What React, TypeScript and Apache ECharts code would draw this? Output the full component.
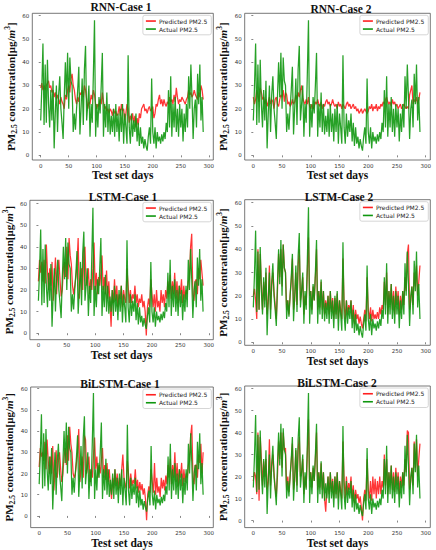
import React, { useEffect, useRef } from "react";
import * as echarts from "echarts";

// ---- data (one sample every DAY_STEP test days) ----
const DAY_STEP = 2;
const X_TICKS = [0, 50, 100, 150, 200, 250, 300];
const Y_TICKS = [0, 10, 20, 30, 40, 50, 60];
const PANEL_TITLES = ["RNN-Case 1", "RNN-Case 2", "LSTM-Case 1", "LSTM-Case 2", "BiLSTM-Case 1", "BiLSTM-Case 2"];
const SERIES_NAMES = ["Predicted PM2.5", "Actual PM2.5"];

const ACTUAL = [
  15, 29, 48, 13, 39, 14, 41, 22, 12, 28, 15,
  32, 3, 18, 30, 10, 26, 34, 20, 14, 7,
  25, 40, 25, 44, 20, 42, 32, 30, 10, 18,
  11, 20, 28, 38, 9, 20, 33, 13, 37, 47,
  15, 22, 30, 8, 22, 14, 35, 58, 8, 22,
  12, 25, 18, 30, 44, 8, 22, 12, 27, 10,
  22, 9, 17, 10, 20, 8, 22, 10, 18, 6,
  20, 10, 22, 5, 18, 12, 5, 43, 12, 5,
  18, 8, 15, 10, 18, 6, 14, 4, 12, 5,
  8, 3, 7, 4, 2, 8, 12, 5, 33, 10,
  5, 12, 3, 10, 6, 8, 5, 9, 6, 10,
  7, 14, 10, 28, 12, 34, 8, 22, 12, 25,
  10, 20, 8, 22, 12, 20, 6, 18, 10, 22,
  12, 34, 20, 39, 25, 7, 20, 24, 12, 35,
  22, 39, 15, 25, 10,
];

const PRED_RNN_1 = [
  29, 31, 28, 30, 28, 30, 31, 32, 29, 30, 27,
  28, 25, 27, 24, 26, 24, 22, 25, 23, 22,
  20, 26, 24, 28, 30, 27, 33, 35, 30, 28,
  24, 22, 25, 23, 27, 26, 28, 25, 30, 28,
  24, 20, 23, 22, 26, 24, 28, 26, 22, 20,
  22, 21, 24, 22, 27, 23, 20, 21, 19, 20,
  18, 20, 19, 17, 20, 18, 19, 17, 18, 21,
  17, 22, 19, 20, 15, 18, 22, 20, 14, 17,
  15, 18, 14, 17, 12, 16, 13, 18, 16, 20,
  21, 22, 19, 20, 18, 20, 21, 19, 20, 21,
  16, 18, 22, 21, 24, 26, 22, 24, 21, 24,
  22, 21, 23, 22, 25, 23, 24, 22, 26, 23,
  29, 25, 22, 24, 23, 25, 24, 23, 22, 24,
  25, 28, 26, 27, 25, 26, 28, 26, 25, 24,
  27, 25, 30, 28, 24,
];

const PRED_RNN_2 = [
  25, 22, 24, 28, 26, 23, 29, 27, 24, 25, 22,
  24, 21, 23, 25, 22, 24, 23, 20, 24, 25,
  22, 21, 24, 26, 25, 28, 23, 27, 26, 22,
  23, 21, 22, 24, 22, 23, 26, 24, 27, 25,
  28, 30, 25, 23, 22, 24, 22, 25, 21, 20,
  22, 20, 21, 23, 22, 24, 22, 21, 23, 20,
  22, 21, 23, 24, 22, 23, 21, 22, 24, 22,
  21, 22, 20, 23, 21, 22, 20, 22, 21, 20,
  22, 23, 21, 22, 20, 21, 22, 20, 21, 19,
  20, 18, 19, 20, 18, 19, 20, 19, 18, 19,
  21, 20, 22, 19, 21, 20, 22, 19, 21, 20,
  22, 21, 23, 22, 24, 25, 23, 22, 23, 21,
  24, 22, 23, 21, 22, 20, 21, 22, 20, 21,
  22, 21, 20, 21, 20, 26, 28, 30, 22, 24,
  23, 25, 22, 24, 27,
];

const PRED_LSTM_1 = [
  24, 34, 28, 33, 24, 34, 23, 41, 28, 20, 30,
  22, 33, 15, 24, 35, 18, 28, 34, 25, 17,
  20, 30, 33, 26, 40, 25, 44, 36, 32, 22,
  18, 22, 26, 32, 44, 16, 25, 30, 20, 38,
  40, 22, 24, 30, 18, 25, 20, 30, 42, 20,
  28, 18, 26, 22, 28, 36, 20, 26, 18, 29,
  16, 24, 14, 3, 20, 14, 25, 15, 22, 12,
  18, 16, 22, 12, 20, 16, 14, 30, 22, 14,
  20, 14, 18, 16, 22, 14, 18, 12, 16, 14,
  18, 12, 15, 10, -1, 12, 16, 12, 25, 18,
  12, 18, 10, 20, 12, 15, 10, 20, 14, 18,
  12, 20, 16, 24, 18, 27, 16, 24, 18, 28,
  16, 24, 14, 22, 18, 25, 14, 22, 16, 20,
  18, 24, 25, 40, 46, 18, 15, 24, 25, 18,
  30, 25, 34, 28, 22,
];

const PRED_LSTM_2 = [
  20, 23, 18, 10, 40, 14, 38, 25, 14, 26, 18,
  30, 12, 18, 33, 14, 24, 30, 22, 16, 10,
  22, 38, 28, 40, 24, 42, 32, 30, 14, 18,
  12, 20, 26, 36, 14, 18, 30, 16, 33, 40,
  18, 22, 28, 12, 20, 16, 30, 45, 20, 22,
  14, 24, 18, 28, 40, 14, 22, 15, 26, 14,
  22, 12, 18, 14, 20, 12, 22, 13, 19, 10,
  19, 12, 21, 10, 18, 14, 10, 36, 16, 10,
  18, 12, 16, 14, 18, 10, 16, 8, 14, 10,
  12, 8, 11, 8, 6, 10, 14, 9, 28, 14,
  10, 15, 9, 14, 10, 12, 10, 13, 10, 15,
  12, 16, 14, 26, 16, 30, 12, 22, 16, 25,
  14, 22, 12, 24, 16, 22, 12, 20, 14, 22,
  16, 28, 22, 38, 42, 14, 18, 24, 16, 30,
  24, 33, 20, 26, 33,
];

const PRED_BILSTM_1 = [
  23, 32, 28, 30, 26, 35, 22, 36, 26, 20, 28,
  20, 33, 12, 22, 31, 18, 26, 30, 22, 16,
  20, 28, 32, 24, 38, 26, 42, 34, 30, 20,
  18, 20, 25, 30, 41, 16, 22, 28, 18, 38,
  36, 20, 24, 28, 16, 22, 18, 28, 37, 22,
  28, 18, 24, 20, 26, 32, 18, 24, 17, 25,
  16, 22, 14, 8, 18, 13, 22, 14, 20, 12,
  18, 14, 22, 29, 18, 15, 13, 26, 20, 13,
  20, 14, 17, 15, 22, 13, 17, 11, 16, 12,
  15, 10, 13, 8, -2, 10, 14, 11, 22, 16,
  11, 25, 10, 18, 11, 14, 9, 18, 13, 17,
  12, 19, 15, 24, 18, 27, 15, 24, 18, 30,
  16, 25, 14, 22, 18, 25, 14, 22, 16, 20,
  18, 24, 26, 38, 43, 18, 15, 24, 24, 18,
  29, 25, 34, 20, 30,
];

const PRED_BILSTM_2 = [
  18, 22, 20, 12, 40, 9, 38, 28, 16, 27, 20,
  28, 14, 18, 37, 16, 24, 30, 22, 15, 11,
  20, 36, 28, 40, 24, 40, 32, 33, 14, 20,
  13, 20, 27, 35, 14, 18, 32, 16, 32, 38,
  20, 22, 28, 12, 20, 15, 30, 46, 18, 22,
  15, 24, 18, 28, 40, 14, 22, 15, 26, 14,
  22, 10, 4, 14, 20, 12, 22, 13, 19, 10,
  20, 12, 22, 10, 18, 14, 10, 36, 18, 10,
  20, 12, 17, 14, 20, 10, 16, 8, 14, 10,
  12, 8, 11, 6, 0, 10, 14, 9, 28, 14,
  10, 18, 9, 20, 12, 19, 10, 18, 12, 20,
  12, 18, 15, 30, 16, 28, 12, 22, 16, 25,
  14, 22, 13, 24, 16, 22, 12, 20, 15, 22,
  16, 28, 22, 41, 40, 14, 18, 24, 16, 36,
  24, 37, 20, 28, 35,
];

const PREDICTIONS = [PRED_RNN_1, PRED_RNN_2, PRED_LSTM_1, PRED_LSTM_2, PRED_BILSTM_1, PRED_BILSTM_2];

// ---- layout (pixels in the 436x550 page) ----
const PANELS = [
  { left: 32.3, top: 13.3, width: 181, height: 146.7, yMin: -2, yMax: 61, tx: 121, ty: 7.3, xGap: 3, yGap: 12 },
  { left: 244.7, top: 13.3, width: 185.6, height: 146.7, yMin: -2, yMax: 61, tx: 341, ty: 8.6, xGap: 3, yGap: 11 },
  { left: 29.3, top: 200.3, width: 184, height: 139.4, yMin: -3, yMax: 61.5, tx: 123, ty: 197.3, xGap: 6, yGap: 11 },
  { left: 244.7, top: 199.7, width: 185.6, height: 145.6, yMin: -1.3, yMax: 61.3, tx: 339, ty: 197.3, xGap: 3, yGap: 11 },
  { left: 30.7, top: 387, width: 182.6, height: 141.3, yMin: -5.5, yMax: 60.8, tx: 120, ty: 383.6, xGap: 3, yGap: 13 },
  { left: 244.7, top: 386, width: 185.6, height: 142.3, yMin: -3.2, yMax: 61.2, tx: 337, ty: 383.3, xGap: 5, yGap: 11 },
];

const SERIF = '"Liberation Serif", "Times New Roman", serif';
const SANS = '"DejaVu Sans", sans-serif';
const RED = "#ff2020";
const GREEN = "#0f970f";

export default function App() {
  const ref = useRef<HTMLDivElement>(null);

  useEffect(() => {
    if (!ref.current) return;
    const chart = echarts.init(ref.current, undefined, { renderer: "svg" });

    const grids = PANELS.map((p) => ({
      left: p.left,
      top: p.top,
      width: p.width,
      height: p.height,
      show: true,
      borderColor: "#555",
      borderWidth: 0.8,
      backgroundColor: "transparent",
    }));

    const xAxes = PANELS.map((p, i) => ({
      type: "value",
      gridIndex: i,
      min: -15,
      max: 308,
      splitLine: { show: false },
      axisLine: { show: false },
      axisTick: { show: true, length: 2, lineStyle: { color: "#555", width: 0.7 }, customValues: X_TICKS },
      axisLabel: { customValues: X_TICKS, fontSize: 5.5, color: "#333", margin: 2.5, fontFamily: SANS },
      name: "Test set days",
      nameLocation: "middle",
      nameGap: p.xGap,
      nameTextStyle: {
        fontFamily: SERIF,
        fontWeight: "bold",
        fontSize: 11.5,
        color: "#111",
        verticalAlign: "top",
      },
    }));

    const baseName = { fontFamily: SERIF, fontWeight: "bold", color: "#111", fontSize: 11, lineHeight: 15 };
    const yAxes = PANELS.map((p, i) => ({
      type: "value",
      gridIndex: i,
      min: p.yMin,
      max: p.yMax,
      splitLine: { show: false },
      axisLine: { show: false },
      axisTick: { show: true, length: 2, lineStyle: { color: "#555", width: 0.7 }, customValues: Y_TICKS },
      axisLabel: { customValues: Y_TICKS, fontSize: 5.5, color: "#333", margin: 3, fontFamily: SANS },
      name: "{b|PM}{s|2.5}{b| concentration[μg/}{i|m}{p|3}{b|]}",
      nameLocation: "middle",
      nameRotate: 90,
      nameGap: p.yGap,
      nameTextStyle: {
        ...baseName,
        rich: {
          b: { ...baseName },
          s: { ...baseName, fontSize: 7.5, lineHeight: 8, verticalAlign: "bottom" },
          i: { ...baseName, fontStyle: "italic" },
          p: { ...baseName, fontSize: 7.5, lineHeight: 8, verticalAlign: "top" },
        },
      },
    }));

    const series: any[] = [];
    PANELS.forEach((_, i) => {
      series.push({
        type: "line",
        name: SERIES_NAMES[0],
        xAxisIndex: i,
        yAxisIndex: i,
        data: PREDICTIONS[i].map((v, j) => [j * DAY_STEP, v]),
        showSymbol: false,
        symbol: "none",
        color: RED,
        lineStyle: { color: RED, width: 1.25, opacity: 0.9 },
        clip: true,
        z: 2,
      });
      series.push({
        type: "line",
        name: SERIES_NAMES[1],
        xAxisIndex: i,
        yAxisIndex: i,
        data: ACTUAL.map((v, j) => [j * DAY_STEP, v]),
        showSymbol: false,
        symbol: "none",
        color: GREEN,
        lineStyle: { color: GREEN, width: 1.25, opacity: 0.9 },
        clip: true,
        z: 3,
      });
    });

    const legends = PANELS.map((p) => ({
      data: SERIES_NAMES,
      orient: "vertical",
      right: 436 - (p.left + p.width) + 2,
      top: p.top + 2,
      icon: "rect",
      itemWidth: 10,
      itemHeight: 1.6,
      itemGap: 1.5,
      padding: [2.5, 4, 2.5, 3],
      backgroundColor: "#fff",
      borderColor: "#ccc",
      borderWidth: 0.8,
      borderRadius: 2,
      selectedMode: false,
      textStyle: { fontSize: 6, color: "#222", fontFamily: SANS, lineHeight: 6.5, padding: [0, 0, 0, -2] },
    }));

    const titles = PANELS.map((p, i) => ({
      type: "text",
      x: p.tx,
      y: p.ty,
      style: {
        text: PANEL_TITLES[i],
        fill: "#111",
        font: `bold 11.5px ${SERIF}`,
        textAlign: "center",
        textVerticalAlign: "middle",
        align: "center",
        verticalAlign: "middle",
      },
    }));

    chart.setOption({
      animation: false,
      backgroundColor: "#fff",
      grid: grids,
      xAxis: xAxes,
      yAxis: yAxes,
      legend: legends,
      series,
      graphic: titles,
    });

    return () => chart.dispose();
  }, []);

  return (
    <div
      ref={ref}
      style={{ position: "absolute", left: 0, top: 0, width: 436, height: 550, background: "#fff" }}
    />
  );
}
